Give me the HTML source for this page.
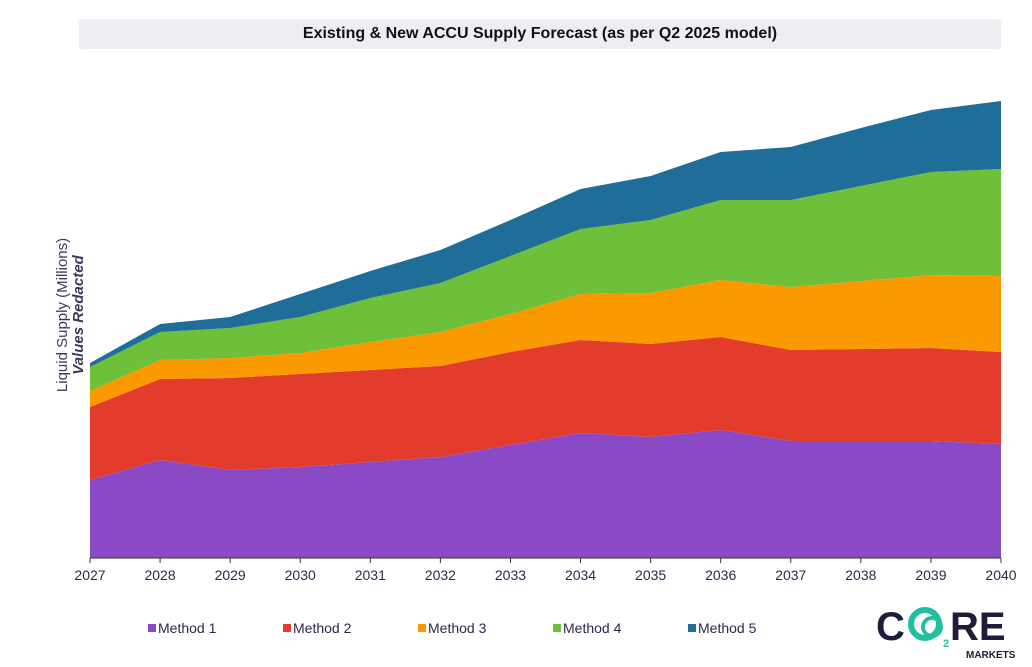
<!DOCTYPE html>
<html><head><meta charset="utf-8"><style>
body{margin:0;width:1032px;height:667px;background:#fff;font-family:"Liberation Sans",sans-serif;overflow:hidden;position:relative}
#title{position:absolute;left:79px;top:19px;width:922px;height:30px;background:#efedf1;border-radius:4px;text-align:center;line-height:30px;font-weight:bold;font-size:16px;color:#111}
</style></head><body>
<div id="title">Existing &amp; New ACCU Supply Forecast (as per Q2 2025 model)</div>
<svg id="chart" width="1032" height="667" style="position:absolute;left:0;top:0"></svg>
<script>
const years=[2027,2028,2029,2030,2031,2032,2033,2034,2035,2036,2037,2038,2039,2040];
const method1=[78,98,88,91,96,101,113,125,121,128,117,117,117,114];
const method2=[73,81,92,93,92,91,93,93,93,93,91,92,93,92];
const method3=[16,19,20,21,28,34,38,46,51,57,63,68,73,76];
const method4=[24,28,30,36,44,49,58,65,73,80,87,95,103,107];
const method5=[4,8,11,23,27,33,36,40,44,48,53,58,62,68];
const seriesNames=["Method 1","Method 2","Method 3","Method 4","Method 5"];
const colors=["#8a4ac6","#e33b2c","#fb9a00","#6ebf3a","#1f6e9a"];
const series=[method1,method2,method3,method4,method5];
const NS="http://www.w3.org/2000/svg";
const svg=document.getElementById('chart');
const x0=90,x1=1001,yb=558,ymax=458;
const xs=i=>x0+(x1-x0)*i/(years.length-1);
const ys=v=>yb-v*(yb-100)/ymax;
let base=years.map(()=>0);
series.forEach((s,k)=>{
  const top=base.map((b,i)=>b+s[i]);
  let d="M"+top.map((v,i)=>xs(i)+","+ys(v)).join("L");
  for(let i=years.length-1;i>=0;i--) d+="L"+xs(i)+","+ys(base[i]);
  const p=document.createElementNS(NS,'path');
  p.setAttribute('d',d+"Z");p.setAttribute('fill',colors[k]);
  
  
  svg.appendChild(p);
  base=top;
});
const ax=document.createElementNS(NS,'line');
ax.setAttribute('x1',x0);ax.setAttribute('x2',x1);ax.setAttribute('y1',yb);ax.setAttribute('y2',yb);ax.setAttribute('stroke','#333');


svg.appendChild(ax);
years.forEach((y,i)=>{
  const t=document.createElementNS(NS,'line');
  t.setAttribute('x1',xs(i));t.setAttribute('x2',xs(i));t.setAttribute('y1',yb);t.setAttribute('y2',yb+5);t.setAttribute('stroke','#333');
  
  
  svg.appendChild(t);
  const l=document.createElementNS(NS,'text');
  l.setAttribute('x',xs(i));l.setAttribute('y',580);l.setAttribute('text-anchor','middle');l.setAttribute('font-size','14');l.setAttribute('fill','#2a2a4a');
  l.textContent=y;
  
  
  svg.appendChild(l);
});
const legX=[148,283,418,553,688];
seriesNames.forEach((n,k)=>{
  const r=document.createElementNS(NS,'rect');
  r.setAttribute('x',legX[k]);r.setAttribute('y',624);r.setAttribute('width',8);r.setAttribute('height',8);r.setAttribute('fill',colors[k]);
  
  
  svg.appendChild(r);
  const t=document.createElementNS(NS,'text');
  t.setAttribute('x',legX[k]+10);t.setAttribute('y',633);t.setAttribute('font-size','14');t.setAttribute('fill','#2a2a4a');
  t.textContent=n;
  
  
  svg.appendChild(t);
});
</script>
<svg width="1032" height="667" style="position:absolute;left:0;top:0;pointer-events:none">
<g transform="translate(67,315) rotate(-90)">
<text x="0" y="0" text-anchor="middle" font-size="15" fill="#3a3a5a" font-family="Liberation Sans">Liquid Supply (Millions)</text>
<text x="0" y="16" text-anchor="middle" font-size="15" font-weight="bold" font-style="italic" fill="#3a3a5a" font-family="Liberation Sans">Values Redacted</text>
</g>
<g font-family="Liberation Sans" font-weight="bold">
<text x="876" y="640" font-size="40" fill="#1e1e3c">C</text>
<circle cx="925" cy="624" r="14" fill="none" stroke="#1fbfa0" stroke-width="6"/>
<circle cx="932" cy="627" r="9" fill="none" stroke="#1fbfa0" stroke-width="4"/>
<text x="943" y="647" font-size="11" fill="#1fbfa0">2</text>
<text x="950" y="640" font-size="40" fill="#1e1e3c">RE</text>
<text x="966" y="658" font-size="10" fill="#1e1e3c">MARKETS</text>
</g>
</svg>
</body></html>
